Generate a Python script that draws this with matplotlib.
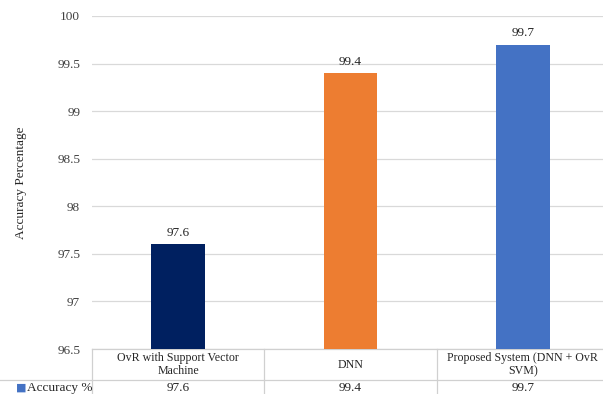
import matplotlib.pyplot as plt
import numpy as np

categories = ["OvR with Support Vector\nMachine", "DNN", "Proposed System (DNN + OvR\nSVM)"]
accuracy = [97.6, 99.4, 99.7]
bar_colors = ["#002060", "#ED7D31", "#4472C4"]
series_name = "Accuracy %"
yticks = [96.5, 97, 97.5, 98, 98.5, 99, 99.5, 100]

plt.rcParams["font.family"] = ["Liberation Serif", "DejaVu Serif"]
plt.rcParams["font.size"] = 9.5

fig = plt.figure(figsize=(6.03, 3.94), dpi=100)
W, H = 603, 394
left, right, top, bottom = 92, 609, 16, 349
ax = fig.add_axes([left / W, 1 - bottom / H, (right - left) / W, (bottom - top) / H])

x = np.arange(len(categories))
ax.bar(x, np.array(accuracy) - 96.5, bottom=96.5, width=0.31, color=bar_colors, zorder=3)
for xi, v in zip(x, accuracy):
    ax.annotate("{0}".format(v), (xi, v), xytext=(0, 4), textcoords="offset points",
                ha="center", va="bottom", color="#262626")

ax.set_xlim(-0.5, len(categories) - 0.5)
ax.set_ylim(96.5, 100)
ax.set_yticks(yticks)
ax.set_yticklabels(["{0:g}".format(t) for t in yticks], color="#404040")
ax.set_xticks([])
ax.tick_params(axis="y", length=0, pad=8.5)
ax.grid(axis="y", color="#d9d9d9", linewidth=0.9, zorder=0)
for s in ax.spines.values():
    s.set_visible(False)
ax.set_ylabel("Accuracy Percentage", color="#262626", labelpad=22)

# data table under the plot
tr = ax.get_xaxis_transform()
ax_h = bottom - top
row1 = -(380 - bottom) / ax_h
row2 = -(420 - bottom) / ax_h
line_kw = dict(color="#d0d0d0", linewidth=0.9, clip_on=False, transform=tr)
ax.plot([-0.5, len(categories) - 0.5], [0, 0], **line_kw)
x_left = -0.5 - (left - 0) / ((right - left) / len(categories))
ax.plot([x_left, len(categories) - 0.5], [row1, row1], **line_kw)
for b in np.arange(len(categories) + 1) - 0.5:
    ax.plot([b, b], [0, row2], **line_kw)
for xi, c, v in zip(x, categories, accuracy):
    ax.text(xi, row1 / 2, c, transform=tr, ha="center", va="center",
            color="#262626", linespacing=1.15, fontsize=8.6)
    ax.text(xi, row1 - 0.006, "{0}".format(v), transform=tr, ha="center", va="top",
            color="#262626")
fig.text(16 / W, 1 - 388 / H, "\u25a0", color="#4472C4", ha="left", va="center",
         fontsize=8, family="DejaVu Sans")
fig.text(27 / W, 1 - 388 / H, series_name, color="#262626", ha="left", va="center")

fig.savefig("out.png", dpi=100)
